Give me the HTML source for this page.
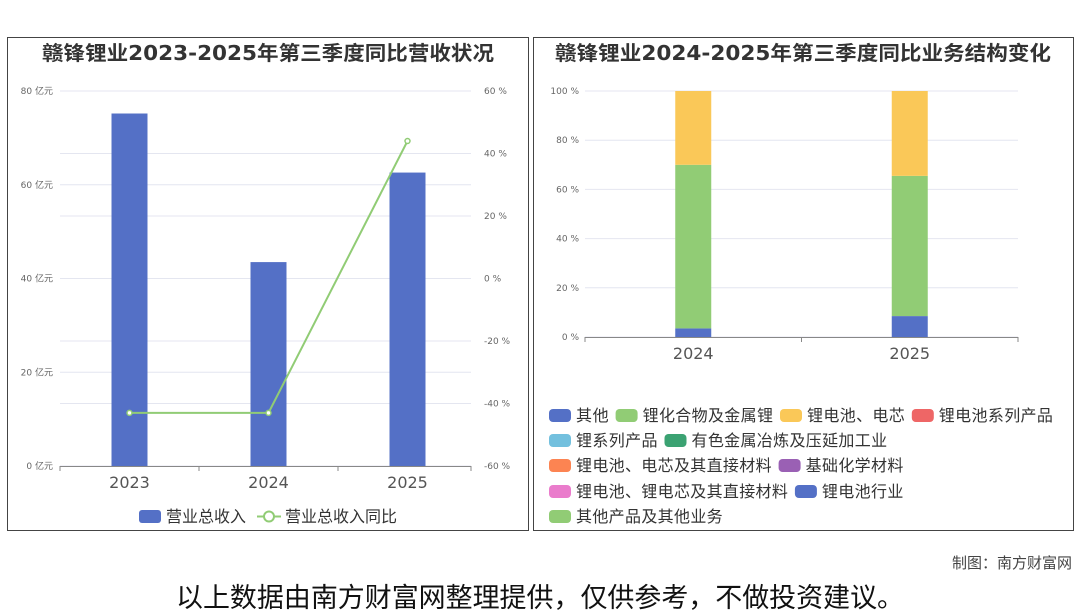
<!DOCTYPE html>
<html><head><meta charset="utf-8"><style>
body{margin:0;background:#fff;width:1080px;height:614px;overflow:hidden;font-family:"DejaVu Sans","Noto Sans CJK SC",sans-serif}
</style></head><body>
<svg id="s" width="1080" height="614" xmlns="http://www.w3.org/2000/svg" style="position:absolute;left:0;top:0;font-family:'DejaVu Sans','Noto Sans CJK SC',sans-serif">
<rect x="7.5" y="37.5" width="521" height="493" fill="none" stroke="#444"/>
<rect x="533.5" y="37.5" width="540" height="493" fill="none" stroke="#444"/>
<text x="268" y="60" text-anchor="middle" font-size="20" font-weight="bold" fill="#333" textLength="452" lengthAdjust="spacingAndGlyphs">赣锋锂业2023-2025年第三季度同比营收状况</text>
<text x="803" y="60" text-anchor="middle" font-size="20" font-weight="bold" fill="#333" textLength="496" lengthAdjust="spacingAndGlyphs">赣锋锂业2024-2025年第三季度同比业务结构变化</text>
<g id="L"></g><g id="R"></g>
<text x="1072" y="568" text-anchor="end" font-size="15" fill="#444">制图：南方财富网</text>
<text x="540" y="607" text-anchor="middle" font-size="27" fill="#111" textLength="728" lengthAdjust="spacingAndGlyphs">以上数据由南方财富网整理提供，仅供参考，不做投资建议。</text>
</svg>
<script>
const years=['2023','2024','2025'];
const revenue=[75.2,43.5,62.6];
const yoy=[-43,-43,44];
const leftTicks=[0,20,40,60,80];
const rightTicks=[-60,-40,-20,0,20,40,60];
const years2=['2024','2025'];
const segOther=[3.5,8.5];
const segLiComp=[66.5,57];
const segBattery=[30,34.5];
const legendNames=[['其他','锂化合物及金属锂','锂电池、电芯','锂电池系列产品'],['锂系列产品','有色金属冶炼及压延加工业'],['锂电池、电芯及其直接材料','基础化学材料'],['锂电池、锂电芯及其直接材料','锂电池行业'],['其他产品及其他业务']];
const legendColors=[['#5470c6','#91cc75','#fac858','#ee6666'],['#73c0de','#3ba272'],['#fc8452','#9a60b4'],['#ea7ccc','#5470c6'],['#91cc75']];
const NS='http://www.w3.org/2000/svg';
function mk(p,t,a,txt){const e=document.createElementNS(NS,t);for(const k in a)e.setAttribute(k,a[k]);if(txt!=null)e.textContent=txt;p.appendChild(e);return e;}
const L=document.getElementById('L'),R=document.getElementById('R');
// left chart
const lx0=60,lx1=477,ly0=466,ly1=91;
const yL=v=>ly0-(v/80)*(ly0-ly1);
const yR=v=>ly0-((v+60)/120)*(ly0-ly1);
const xL=i=>lx0+(i+0.5)*(lx1-lx0)/years.length;
rightTicks.forEach(t=>{let g=mk(L,'line',{x1:lx0,x2:lx1-6,y1:yR(t),y2:yR(t),stroke:'#e4e6f0'});
 let e=mk(L,'text',{x:484,y:yR(t)+3,'font-size':9,fill:'#666'},t+' %');});
leftTicks.forEach(t=>{let g=mk(L,'line',{x1:lx0,x2:lx1-6,y1:yL(t),y2:yL(t),stroke:'#e4e6f0'});
 let e=mk(L,'text',{x:53,y:yL(t)+3,'font-size':9,fill:'#666','text-anchor':'end'},t+' 亿元');});
mk(L,'line',{x1:lx0,x2:lx1-6,y1:ly0+.5,y2:ly0+.5,stroke:'#888'});
for(let i=0;i<=years.length;i++){const tx=Math.min(lx0+i*(lx1-lx0)/3,lx1-6);mk(L,'line',{x1:tx,x2:tx,y1:ly0,y2:ly0+5,stroke:'#888'});}
years.forEach((y,i)=>{let b=mk(L,'rect',{x:xL(i)-18,y:yL(revenue[i]),width:36,height:ly0-yL(revenue[i]),fill:'#5470c6'});
 let t=mk(L,'text',{x:xL(i),y:488,'font-size':16,fill:'#555','text-anchor':'middle'},y);});
let pl=mk(L,'polyline',{points:yoy.map((v,i)=>xL(i)+','+yR(v)).join(' '),fill:'none',stroke:'#91cc75','stroke-width':2});

yoy.forEach((v,i)=>{let c=mk(L,'circle',{cx:xL(i),cy:yR(v),r:2.5,fill:'#fff',stroke:'#91cc75','stroke-width':1.5});});
let s1=mk(L,'rect',{x:139,y:510,width:22,height:13,rx:3,fill:'#5470c6'});
let t1=mk(L,'text',{x:166,y:522,'font-size':16,fill:'#333'},'营业总收入');
mk(L,'line',{x1:257,x2:281,y1:516.5,y2:516.5,stroke:'#91cc75','stroke-width':2});
mk(L,'circle',{cx:269,cy:516.5,r:5,fill:'#fff',stroke:'#91cc75','stroke-width':2});
let t2=mk(L,'text',{x:285,y:522,'font-size':16,fill:'#333'},'营业总收入同比');
// right chart
const rx0=585,rx1=1018,ry0=337,ry1=91;
const yP=v=>ry0-(v/100)*(ry0-ry1);
const xP=i=>rx0+(i+0.5)*(rx1-rx0)/years2.length;
[0,20,40,60,80,100].forEach(t=>{let g=mk(R,'line',{x1:rx0,x2:rx1,y1:yP(t),y2:yP(t),stroke:'#e4e6f0'});
 let e=mk(R,'text',{x:579,y:yP(t)+3,'font-size':9,fill:'#666','text-anchor':'end'},t+' %');});
mk(R,'line',{x1:rx0,x2:rx1,y1:ry0+.5,y2:ry0+.5,stroke:'#888'});
for(let i=0;i<=2;i++)mk(R,'line',{x1:rx0+i*(rx1-rx0)/2,x2:rx0+i*(rx1-rx0)/2,y1:ry0,y2:ry0+5,stroke:'#888'});
const series=[[segOther,'#5470c6','other'],[segLiComp,'#91cc75','lithium-compounds'],[segBattery,'#fac858','battery']];
years2.forEach((y,i)=>{let acc=0;series.forEach(([arr,col,nm])=>{let b=mk(R,'rect',{x:xP(i)-18,y:yP(acc+arr[i]),width:36,height:yP(acc)-yP(acc+arr[i]),fill:col});acc+=arr[i];});
 let t=mk(R,'text',{x:xP(i),y:359,'font-size':16,fill:'#555','text-anchor':'middle'},y);});
const rowY=[415,440,465,491,516];
legendNames.forEach((row,r)=>{let x=549;row.forEach((n,k)=>{let sw=mk(R,'rect',{x:x,y:rowY[r]-6,width:22,height:13,rx:4,fill:legendColors[r][k]});
 let t=mk(R,'text',{x:x+27,y:rowY[r]+6,'font-size':16,fill:'#333',textLength:n.length*16.3,lengthAdjust:'spacing'},n);
 x+=27+n.length*16.3+7;});});
</script>
</body></html>
